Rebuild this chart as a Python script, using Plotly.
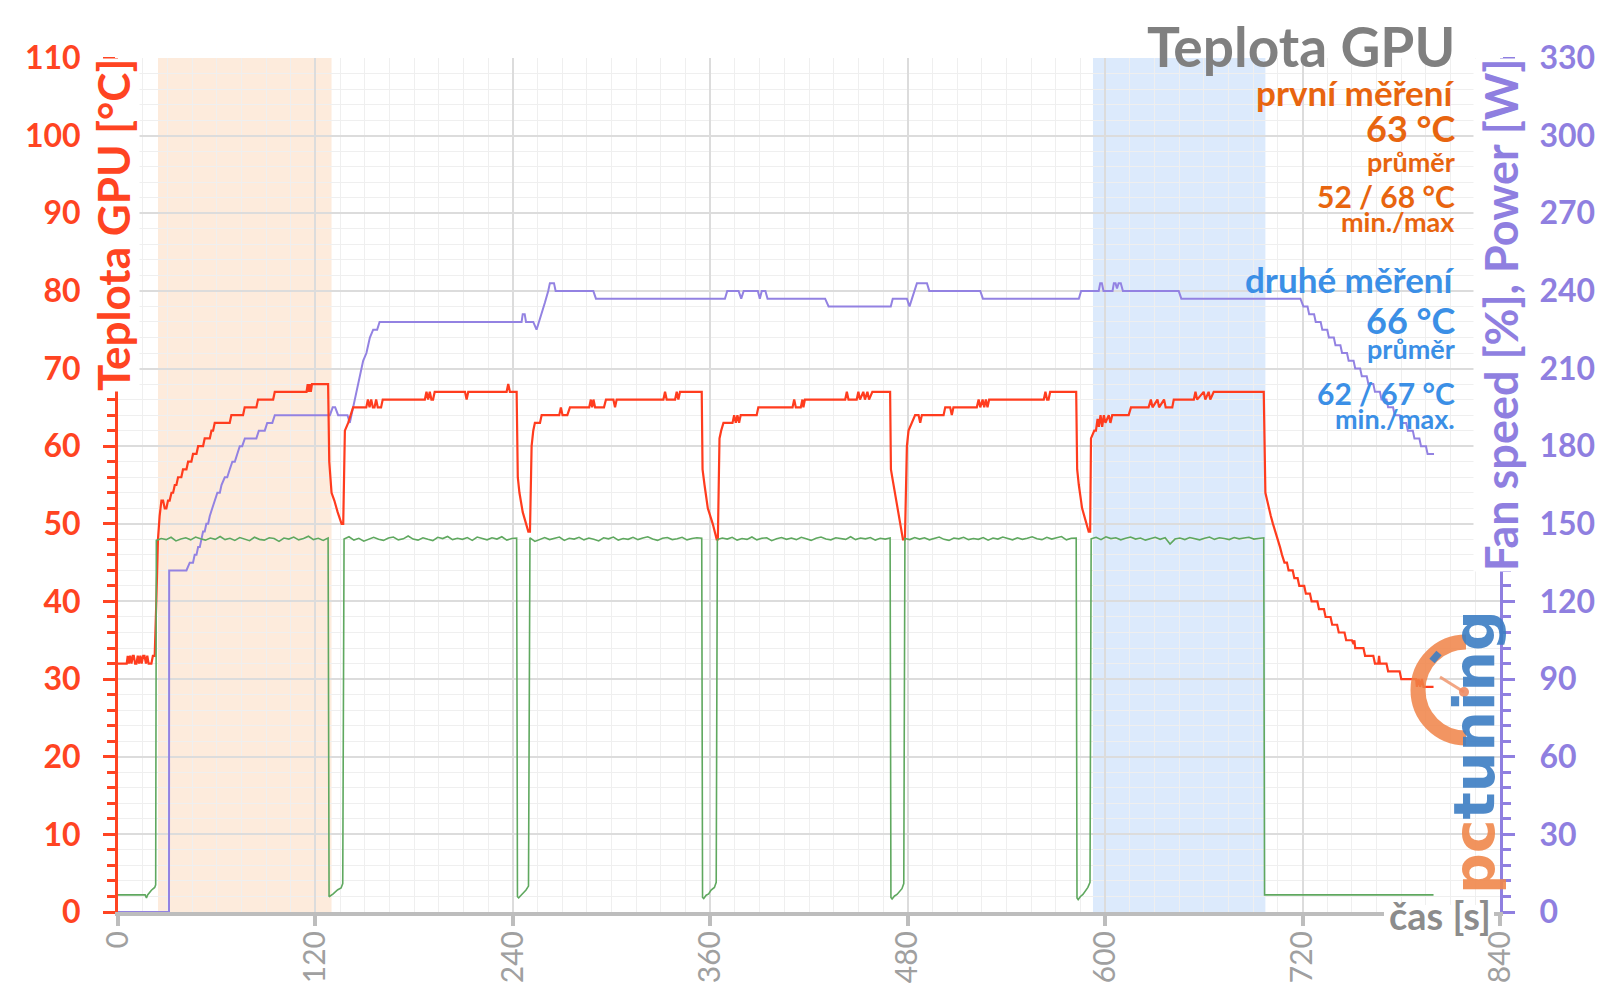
import plotly.graph_objects as go

# ------------------------------------------------------------------ data
# GPU temperature [°C]
temp_t = [0, 5.3, 5.9, 6.6, 7.4, 8.2, 9.0, 9.6, 10.4, 11.2, 12.0, 12.8, 13.6, 14.4, 15.3, 16.1, 17.0, 17.8, 18.6, 19.5, 20.3, 21.2, 22.3,
          23.3, 24.3, 25.3, 26.4, 27.4, 28.4, 29.4, 30.4, 31.4, 32.5, 33.5, 34.5, 35.5, 36.5, 38.5, 39.5, 41.6, 42.6, 44.6, 45.6, 47.7, 48.7,
          51.7, 52.7, 55.8, 56.8, 57.8, 58.8, 67.9, 68.9, 76.0, 77.0, 84.1, 85.1, 94.3, 95.3, 114.6, 115.3, 115.9, 116.6, 117.2, 117.9, 127.7,
          128.4, 129.8, 131.5, 133.5, 135.9, 136.9, 137.9, 139.9, 141.4, 142.9, 150.9, 151.9, 152.9, 153.9, 154.9, 155.9, 156.9, 157.9, 159.9,
          160.9, 186.5, 187.5, 188.5, 189.5, 190.5, 191.5, 192.5, 210.9, 211.9, 212.9, 236.2, 237.2, 238.2, 242.3,
          243.0, 244.0, 246.0, 249.4, 250.4, 251.4, 252.4, 253.4, 256.5, 257.5, 268.2, 269.2, 270.2, 273.1, 274.7, 286.4, 287.4, 288.2, 289.0,
          290.0, 295.4, 296.6, 301.1, 302.1, 303.1, 331.5, 332.5, 333.5, 338.6, 339.6, 340.6, 341.6, 354.8,
          355.3, 356.5, 358.5, 361.5, 363.9, 364.6, 365.6, 366.6, 368.0, 373.5, 374.5, 375.5, 376.5, 377.5, 378.5, 388.2, 389.2, 410.0, 411.0,
          412.0, 415.0, 416.0, 416.6, 417.5, 442.0, 443.0, 444.0, 449.0, 450.0, 451.0, 453.0, 454.0, 455.5, 456.5, 458.5, 469.3,
          469.8, 471.0, 473.0, 475.0, 477.1, 478.3, 479.5, 480.5, 482.5, 484.5, 486.6, 487.6, 488.6, 501.8, 502.8, 505.8, 506.8, 507.8, 522.0,
          523.1, 524.1, 525.5, 526.5, 527.5, 528.5, 529.5, 562.7, 563.7, 564.7, 565.6, 566.6, 582.4,
          583.0, 584.0, 586.0, 588.4, 590.0, 590.9, 591.4, 593.4, 594.4, 595.4, 596.2, 597.2, 598.2, 599.2, 600.2, 602.2, 603.2, 604.3, 614.3,
          615.7, 626.4, 627.8, 628.8, 631.8, 632.8, 635.8, 636.8, 640.8, 641.7, 653.9, 654.9, 655.9, 659.9, 660.9, 662.9, 663.9, 666.0, 696.4,
          696.9, 697.4, 698.5, 699.5, 700.7, 702.0, 703.5, 705.0, 706.3, 707.5, 709.0, 710.5, 711.5, 714.0, 715.0, 717.0, 718.0, 721.0, 722.0,
          724.5, 725.5, 729.0, 730.0, 733.0, 734.0, 737.0, 738.0, 741.0, 742.0, 745.5, 746.5, 750.0, 751.0, 751.5, 752.0, 757.0, 758.0, 763.0,
          764.0, 766.0, 766.5, 767.0, 771.0, 772.0, 779.0, 780.0, 789.0, 789.5, 790.5, 791.5, 792.5, 793.5, 799.6]
temp_c = [32, 32, 33, 32, 33, 32, 33, 33, 32, 32, 33, 32, 33, 32, 33, 33, 32, 33, 32, 32, 32, 33, 33,
          40, 48, 51, 53, 53, 52, 52, 53, 53, 54, 54, 55, 55, 56, 56, 57, 57, 58, 58, 59, 59, 60,
          60, 61, 61, 62, 62, 63, 63, 64, 64, 65, 65, 66, 66, 67, 67, 68, 67, 68, 67, 68, 68,
          58, 54, 53, 51.5, 50, 50, 62, 63, 64, 65, 65, 66, 65, 66, 65, 65, 66, 65, 65,
          66, 66, 67, 66, 67, 66, 66, 67, 67, 66, 67, 67, 68, 67, 67,
          56, 54, 51.5, 49, 49, 60, 62, 63, 63, 64, 64, 65, 64, 64, 65, 65, 66, 65, 66,
          65, 65, 66, 66, 65, 66, 66, 67, 66, 66, 67, 66, 67, 67,
          57, 55, 52, 50, 48, 48, 61, 62, 63, 63, 64, 63, 64, 63, 64, 64, 65, 65, 66,
          65, 65, 66, 65, 66, 66, 67, 66, 66, 67, 66, 67, 66, 67, 66, 67, 67,
          57, 55.5, 53, 51, 48, 48, 60, 62, 63, 64, 64, 63, 64, 64, 65, 65, 64, 65, 65,
          66, 65, 66, 65, 66, 65, 66, 66, 67, 66, 66, 67, 67,
          57, 55, 52, 50, 49, 49, 61, 62, 62, 63.5, 62.5, 64, 62.5, 64, 63, 64, 63, 64, 64,
          65, 65, 66, 65, 66, 65, 66, 65, 65, 66, 66, 67, 66, 67, 66, 67, 66, 67, 67,
          57, 54, 53, 52, 51, 50, 49, 48, 47, 46, 45, 45, 44, 44, 43, 43, 42, 42, 41,
          41, 40, 40, 39, 39, 38, 38, 37, 37, 36, 36, 35, 35, 34.5, 35, 34, 34, 33, 33,
          32, 32, 33, 32, 32, 31, 31, 30, 30, 29, 30, 29, 30, 29, 29]

# Fan speed [%]
fan_t = [0, 31.0, 31.1, 41.6, 43.6, 45.6, 46.6, 47.7, 48.7, 49.7, 50.7, 51.7, 52.7, 53.7, 54.8, 55.8, 57.3, 58.8, 60.4, 61.9, 62.9,
         64.9, 66.4, 67.9, 69.5, 71.0, 72.5, 74.0, 75.5, 77.1, 84.1, 85.6, 89.2, 90.7, 93.8, 95.3, 128.8, 130.5, 132.0, 133.8, 139.5,
         140.9, 141.9, 142.9, 144.5, 146.0, 147.5, 149.0, 151.0, 153.1, 155.1, 157.5, 159.0, 245.3, 246.0, 247.2, 248.0, 252.4, 254.4,
         255.9, 257.5, 259.5, 261.5, 262.5, 265.0, 266.0, 288.9, 290.5, 368.9, 370.3, 377.2, 378.8, 380.3, 388.9, 390.1, 391.3, 393.5,
         394.8, 429.8, 431.9, 469.7, 470.9, 479.5, 481.1, 482.6, 484.0, 485.6, 491.7, 493.1, 524.1, 525.7, 584.0, 585.4, 596.1, 597.0,
         598.0, 599.0, 604.5, 605.3, 606.3, 607.2, 608.2, 609.5, 610.8, 644.7, 646.3, 718.7, 720.5, 723, 724, 727, 728, 731, 732, 735,
         736, 739, 740, 743, 744, 747, 748, 751, 752, 755, 756, 759, 760, 763, 764, 767, 768, 771, 772, 775, 776, 779, 780, 783, 784,
         787, 788, 791, 792, 795, 796, 799.9]
fan_pct = [0, 0, 44, 44, 45, 45, 46, 46, 47, 47, 48, 49, 49, 50, 50, 51, 52, 53, 54, 54, 55,
           56, 56, 57, 58, 58, 59, 60, 60, 61, 61, 62, 62, 63, 63, 64, 64, 65, 65, 64, 64,
           63, 64, 65, 66.5, 68, 69.5, 71, 72, 74, 75, 75, 76, 76, 77, 77, 76, 76, 75,
           76, 77, 78.5, 80, 81, 81, 80, 80, 79, 79, 80, 80, 79, 80, 80, 79, 80, 80,
           79, 79, 78, 78, 79, 79, 78, 79, 80, 81, 81, 80, 80, 79, 79, 80, 80, 81,
           81, 80, 80, 81, 81, 80.3, 81, 81, 80, 80, 79, 79, 78, 78, 77, 77, 76, 76, 75, 75,
           74, 74, 73, 73, 72, 72, 71, 71, 70, 70, 69, 69, 68, 68, 67, 67, 66, 66, 65, 65, 64, 64, 63, 63, 62,
           62, 61, 61, 60, 60, 59, 59]

# Power [W]: idle stretches (time, W) and load stretches
idle_t = [[0, 16.5, 17.3, 18.0, 20.3, 22.3, 22.9],
          [128.3, 129.5, 130.8, 131.6, 133.6, 135.6, 136.6],
          [242.8, 243.5, 245.0, 246.5, 248.0, 249.5],
          [355.3, 356.0, 357.5, 359.0, 360.5, 362.5, 363.6],
          [469.8, 470.5, 472.0, 473.5, 475.0, 476.5, 477.6],
          [582.9, 583.6, 585.0, 586.5, 588.0, 589.5, 590.8],
          [696.9, 799.6]]
idle_w = [[6.6, 6.6, 5.4, 6.6, 8.4, 9.5, 10.5],
          [5.9, 6.3, 7.0, 7.5, 8.6, 9.3, 11.0],
          [5.9, 5.5, 6.5, 7.5, 8.5, 10.0],
          [5.6, 5.2, 6.5, 7.0, 8.5, 9.5, 11.5],
          [5.6, 5.0, 6.2, 6.8, 8.0, 9.0, 11.0],
          [5.4, 4.8, 6.0, 6.8, 8.4, 9.5, 11.5],
          [6.6, 6.6]]
load_start = [23.3, 137.4, 250.4, 364.3, 478.3, 591.5]
load_end = [127.7, 242.3, 354.8, 469.3, 582.4, 696.4]
load_w = [
    [143.6, 144.3, 143.9, 144.8, 143.4, 144.1, 144.6, 143.8, 144.9, 144.2, 143.7, 144.5, 144.0, 145.1, 143.9, 144.4, 143.6, 144.7,
     144.2, 143.5, 144.8, 144.0, 143.7, 144.6, 144.3, 143.2, 144.5, 144.1, 144.9, 143.8, 144.3, 145.2, 143.9, 144.4, 143.6, 144.5],
    [144.1, 145.0, 143.7, 144.4, 143.3, 144.2, 144.8, 144.0, 143.6, 144.5, 144.9, 143.8, 144.2, 145.3, 144.1, 143.7, 144.6, 144.0,
     143.5, 144.8, 144.3, 145.1, 143.9, 144.4, 144.0, 144.7, 143.6, 144.9, 144.2, 143.8, 144.6, 144.1, 145.0, 143.7, 144.3, 144.5],
    [144.6, 143.2, 144.0, 144.7, 143.9, 144.3, 144.9, 143.6, 144.4, 144.1, 144.8, 143.8, 144.5, 144.0, 143.4, 144.6, 144.2, 144.9,
     143.7, 144.3, 144.0, 144.8, 143.9, 144.5, 145.0, 144.1, 143.6, 144.4, 144.7, 143.9, 144.2, 144.8, 143.8, 144.3, 144.6, 144.4],
    [143.9, 144.5, 144.1, 144.8, 143.7, 144.3, 144.0, 144.9, 143.8, 144.4, 144.6, 143.5, 144.2, 144.7, 144.0, 144.5, 143.9, 144.8,
     144.2, 143.6, 144.4, 144.9, 144.1, 143.8, 144.6, 144.3, 144.0, 145.0, 143.9, 144.5, 144.2, 144.7, 143.7, 144.4, 144.1, 144.5],
    [144.3, 143.9, 144.7, 144.1, 144.6, 143.8, 144.4, 144.9, 144.0, 143.6, 144.5, 144.2, 144.8, 143.9, 144.3, 144.0, 144.7, 143.7,
     144.5, 144.1, 144.9, 144.3, 143.8, 144.6, 144.0, 144.4, 145.0, 144.2, 143.9, 144.8, 144.1, 144.6, 145.1, 143.8, 144.4, 144.5],
    [144.2, 144.8, 143.9, 145.0, 144.3, 144.6, 143.8, 144.4, 144.9, 144.1, 144.5, 143.7, 144.3, 144.8, 144.0, 144.6, 142.2, 144.1,
     144.5, 143.9, 144.7, 144.2, 143.8, 144.4, 144.9, 144.0, 144.6, 144.3, 143.9, 144.7, 144.2, 144.5, 144.8, 144.1, 144.4, 144.6],
]

# measurement windows (s)
win_start = [24.3, 592.6]
win_end = [129.8, 697.4]

x_ticks = [0, 120, 240, 360, 480, 600, 720, 840]

# --------------------------------------------------------- build power series
power_t, power_w = [], []
for i in range(7):
    power_t += idle_t[i]
    power_w += idle_w[i]
    if i < 6:
        n = len(load_w[i])
        step = (load_end[i] - load_start[i]) / (n - 1)
        power_t += [load_start[i] + k * step for k in range(n)]
        power_w += load_w[i]

# ----------------------------------------------------------------- styling
W, H = 1600, 1007
ML, MR, MT, MB = 118, 100, 58, 95
PW, PH = W - ML - MR, H - MT - MB


def px(x):
    return (x - ML) / PW


def py(y):
    return (H - MB - y) / PH


RED = '#ff3c1e'
RED_AX = '#ff4422'
PURPLE = '#9382e2'
PURPLE_AX = '#8f7fe0'
GREEN = '#5fa85f'
GRAY = '#bdbdbd'
ORANGE_T = '#e8650f'
BLUE_T = '#3b8fe6'
FONT = 'Lato'

fig = go.Figure()
fig.add_trace(go.Scatter(x=fan_t, y=fan_pct, mode='lines', line=dict(color=PURPLE, width=2), yaxis='y', hoverinfo='skip'))
fig.add_trace(go.Scatter(x=temp_t, y=temp_c, mode='lines', line=dict(color=RED, width=2.2), yaxis='y', hoverinfo='skip'))
fig.add_trace(go.Scatter(x=power_t, y=power_w, mode='lines', line=dict(color=GREEN, width=1.6), yaxis='y2', hoverinfo='skip'))

shapes = []
for s, e, c in zip(win_start, win_end, ['#fdebdc', '#dceafc']):
    shapes.append(dict(type='rect', xref='x', yref='paper', x0=s, x1=e, y0=0, y1=1,
                       fillcolor=c, line=dict(width=0), layer='below'))

# white knock-out behind the x-axis title (hides the axis line there)
shapes.append(dict(type='rect', xref='paper', yref='paper', x0=px(1384), x1=px(1494), y0=py(920), y1=py(905),
                   fillcolor='white', line=dict(width=0), layer='above'))

# pctuning logo (decoration)
cx, cy, r = 1466, 690, 48
k = 0.5523 * r
arc = (f"M 0,{r} C {-k},{r} {-r},{k} {-r},0 C {-r},{-k} {-k},{-r} 0,{-r}")
shapes.append(dict(type='path', xref='paper', yref='paper', xsizemode='pixel', ysizemode='pixel',
                   xanchor=px(cx), yanchor=py(cy), path=arc, line=dict(color='rgba(240,130,70,0.85)', width=15)))
shapes.append(dict(type='line', xref='paper', yref='paper', x0=px(1432), y0=py(661), x1=px(1439), y1=py(653),
                   line=dict(color='rgba(60,125,195,0.9)', width=7)))
shapes.append(dict(type='line', xref='paper', yref='paper', x0=px(1440), y0=py(677), x1=px(1464), y1=py(692),
                   line=dict(color='rgba(240,150,110,0.85)', width=3)))
shapes.append(dict(type='circle', xref='paper', yref='paper', x0=px(1459), y0=py(687), x1=px(1469), y1=py(697),
                   fillcolor='rgba(240,140,100,0.9)', line=dict(width=0)))

ann = []


def txt(text, y, size, color, x=1457, anchor='right'):
    ann.append(dict(text=text, x=px(x), y=py(y), xref='paper', yref='paper', xanchor=anchor, yanchor='middle',
                    showarrow=False, font=dict(family=FONT, size=size, color=color, weight='bold')))


txt('Teplota GPU', 46, 55, '#808080')
txt('první měření', 92, 35, ORANGE_T)
txt('63 °C', 128, 36, ORANGE_T)
txt('průměr', 161, 27, ORANGE_T)
txt('52 / 68 °C', 196, 30, ORANGE_T)
txt('min./max', 221, 27, ORANGE_T)
txt('druhé měření', 279, 35, BLUE_T)
txt('66 °C', 320, 36, BLUE_T)
txt('průměr', 348, 27, BLUE_T)
txt('62 / 67 °C', 393, 30, BLUE_T)
txt('min./max.', 418, 27, BLUE_T)

ann.append(dict(text='Teplota GPU [°C]', textangle=-90, x=px(113), y=py(58), xref='paper', yref='paper',
                xanchor='center', yanchor='top', showarrow=False, bgcolor='white', borderpad=0,
                font=dict(family=FONT, size=44, color=RED_AX, weight='bold')))
ann.append(dict(text='Fan speed [%], Power [W]', textangle=-90, x=px(1501), y=py(58), xref='paper', yref='paper',
                xanchor='center', yanchor='top', showarrow=False, bgcolor='white', borderpad=0,
                font=dict(family=FONT, size=45, color=PURPLE_AX, weight='bold')))
ann.append(dict(text='čas [s]', x=px(1440), y=py(915), xref='paper', yref='paper', xanchor='center', yanchor='middle',
                showarrow=False,
                font=dict(family=FONT, size=38, color='#8c8c8c', weight='bold')))
ann.append(dict(text="<span style='color:rgba(240,135,75,0.9)'>pc</span><span style='color:rgba(60,125,195,0.9)'>tuning</span>",
                textangle=-90, x=px(1474), y=py(752), xref='paper', yref='paper', xanchor='center', yanchor='middle',
                showarrow=False, font=dict(family='DejaVu Sans', size=57, weight='bold')))

fig.update_layout(
    width=W, height=H,
    margin=dict(l=ML, r=MR, t=MT, b=MB, pad=0, autoexpand=False),
    paper_bgcolor='white', plot_bgcolor='white',
    showlegend=False,
    shapes=shapes, annotations=ann,
    xaxis=dict(range=[0, 840], tickvals=x_ticks, ticktext=[str(v) for v in x_ticks], tickangle=-90,
               tickfont=dict(family=FONT, size=30, color='#a0a0a0'), automargin=False,
               ticks='outside', ticklen=10, tickwidth=4, tickcolor=GRAY,
               showline=True, linecolor=GRAY, linewidth=4,
               showgrid=True, gridcolor='#dcdcdc', gridwidth=1.5, zeroline=False,
               minor=dict(dtick=15, tick0=0, showgrid=True, gridcolor='#efefef', gridwidth=1, ticks=''),
               ticklabelstandoff=-7),
    yaxis=dict(range=[0, 110], dtick=10, tick0=0, side='left', automargin=False,
               tickfont=dict(family=FONT, size=32, color=RED_AX, weight='bold'),
               ticks='outside', ticklen=12, tickwidth=3, tickcolor=RED_AX,
               showline=True, linecolor=RED_AX, linewidth=3,
               showgrid=True, gridcolor='#dcdcdc', gridwidth=1.5, zeroline=False,
               minor=dict(dtick=2, tick0=0, showgrid=True, gridcolor='#efefef', gridwidth=1,
                          ticks='outside', ticklen=8, tickwidth=3, tickcolor=RED_AX),
               ticklabelstandoff=16),
    yaxis2=dict(range=[0, 330], dtick=30, tick0=0, side='right', overlaying='y', anchor='x', automargin=False,
                tickfont=dict(family=FONT, size=32, color=PURPLE_AX, weight='bold'),
                ticks='outside', ticklen=12, tickwidth=3, tickcolor=PURPLE_AX,
                showline=True, linecolor=PURPLE_AX, linewidth=3,
                showgrid=False, zeroline=False,
                minor=dict(dtick=6, tick0=0, ticks='outside', ticklen=8, tickwidth=3, tickcolor=PURPLE_AX),
                ticklabelstandoff=18),
    yaxis3=dict(range=[0, 110], dtick=10, tick0=0, side='left', overlaying='y', anchor='x', automargin=False,
                ticks='inside', ticklen=13, tickwidth=3, tickcolor=RED_AX,
                showticklabels=False, showgrid=False, zeroline=False, showline=False),
    yaxis4=dict(range=[0, 330], dtick=30, tick0=0, side='right', overlaying='y', anchor='x', automargin=False,
                ticks='inside', ticklen=13, tickwidth=3, tickcolor=PURPLE_AX,
                showticklabels=False, showgrid=False, zeroline=False, showline=False),
)

fig.write_html('out.html')
